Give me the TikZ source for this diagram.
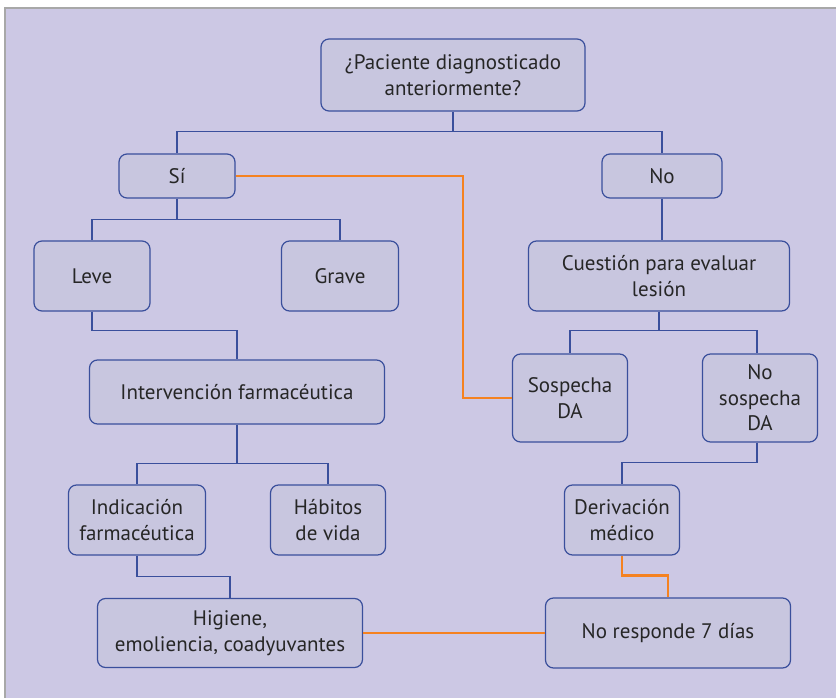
\documentclass[tikz,border=0pt]{standalone}
\usepackage{fontspec}
\setmainfont{PT Sans}
\usepackage{tikz}
\usepackage{xcolor}
\definecolor{fondo}{HTML}{CCC8E4}
\definecolor{caja}{HTML}{C8C6DF}
\definecolor{azul}{HTML}{3A4F9C}
\definecolor{naranja}{HTML}{F58220}
\definecolor{marco}{HTML}{A8A8A8}
\tikzset{
    flow-box/.style = {draw=azul, fill=caja, line width=1.2pt, rectangle, rounded corners=8pt, align=center, text=black!85, font=\fontsize{21}{25.5}\selectfont, inner sep=0pt},
    blue-line/.style = {draw=azul, line width=1.7pt},
    orange-line/.style = {draw=naranja, line width=2.4pt},
}
\begin{document}
\begin{tikzpicture}[x=1pt, y=-1pt]
\useasboundingbox (0,0) rectangle (836,698);
\fill[white] (0,0) rectangle (836,698);
\fill[fondo] (5,8) rectangle (836,698);
\draw[marco, line width=1.5pt] (5,698) -- (5,8) -- (836,8);

% nivel superior
\node[flow-box, minimum width=264pt, minimum height=72pt] (pregunta) at (453,75) {¿Paciente diagnosticado\\anteriormente?};
\node[flow-box, minimum width=116pt, minimum height=44pt] (si) at (177,176) {Sí};
\node[flow-box, minimum width=120pt, minimum height=44pt] (no) at (662,176) {No};

% rama izquierda
\node[flow-box, minimum width=116pt, minimum height=70pt] (leve) at (92,276) {Leve};
\node[flow-box, minimum width=117pt, minimum height=70pt] (grave) at (340,276) {Grave};
\node[flow-box, minimum width=295pt, minimum height=64pt] (intervencion) at (237,392) {Intervención farmacéutica};
\node[flow-box, minimum width=137pt, minimum height=70pt] (indicacion) at (137,520) {Indicación\\farmacéutica};
\node[flow-box, minimum width=115pt, minimum height=70pt] (habitos) at (328,520) {Hábitos\\de vida};
\node[flow-box, minimum width=265pt, minimum height=69pt] (higiene) at (230,633) {Higiene,\\emoliencia, coadyuvantes};

% rama derecha
\node[flow-box, minimum width=261pt, minimum height=70pt] (cuestion) at (659,276) {Cuestión para evaluar\\lesión};
\node[flow-box, minimum width=115pt, minimum height=88pt] (sospecha) at (570,398) {Sospecha\\DA};
\node[flow-box, minimum width=115pt, minimum height=88pt] (nosospecha) at (760,398) {No\\sospecha\\DA};
\node[flow-box, minimum width=115pt, minimum height=70pt] (derivacion) at (622,520) {Derivación\\médico};
\node[flow-box, minimum width=245pt, minimum height=70pt] (noresponde) at (668,633) {No responde 7 días};

% conectores azules
\draw[blue-line] (pregunta.south) -- ++(0,20) -| (si.north);
\draw[blue-line] (pregunta.south) ++(0,20) -| (no.north);
\draw[blue-line] (si.south) -- ++(0,21) -| (leve.north);
\draw[blue-line] (si.south) ++(0,21) -| (grave.north);
\draw[blue-line] (leve.south) -- ++(0,19) -| (intervencion.north);
\draw[blue-line] (intervencion.south) -- ++(0,39) -| (indicacion.north);
\draw[blue-line] (intervencion.south) ++(0,39) -| (habitos.north);
\draw[blue-line] (indicacion.south) -- ++(0,21) -| (higiene.north);
\draw[blue-line] (no.south) -- (cuestion.north -| no.south);
\draw[blue-line] (cuestion.south) -- ++(0,19) -| (sospecha.north);
\draw[blue-line] (cuestion.south) ++(0,19) -| ([xshift=-3pt]nosospecha.north);
\draw[blue-line] ([xshift=-3pt]nosospecha.south) -- ++(0,20) -| (derivacion.north);

% conectores naranjas
\draw[orange-line] (si.east) -- (463,176) |- (sospecha.west);
\draw[orange-line] (derivacion.south) -- ++(0,20) -| (noresponde.north);
\draw[orange-line] (higiene.east) -- (noresponde.west);
\end{tikzpicture}
\end{document}
